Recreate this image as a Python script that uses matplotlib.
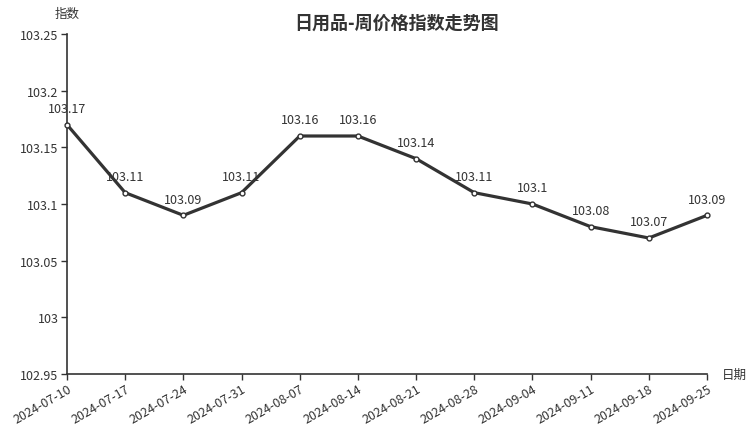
import matplotlib
matplotlib.use("Agg")
import matplotlib.pyplot as plt
import numpy as np

plt.rcParams['font.family'] = ['Noto Sans CJK SC', 'DejaVu Sans']

dates = ['2024-07-10', '2024-07-17', '2024-07-24', '2024-07-31', '2024-08-07', '2024-08-14',
         '2024-08-21', '2024-08-28', '2024-09-04', '2024-09-11', '2024-09-18', '2024-09-25']
values = [103.17, 103.11, 103.09, 103.11, 103.16, 103.16,
          103.14, 103.11, 103.1, 103.08, 103.07, 103.09]
yticks = [102.95, 103, 103.05, 103.1, 103.15, 103.2, 103.25]

fig = plt.figure(figsize=(7.52, 4.27), dpi=100)
ax = fig.add_axes([67/752, 1 - 375/427, 640/752, 340/427])

x = np.arange(len(dates))
ax.plot(x, values, color='#333333', lw=2.3, marker='o', ms=3.5,
        mfc='white', mec='#333333', mew=1, zorder=3, clip_on=False)
for xi, v in zip(x, values):
    ax.annotate('%g' % v, (xi, v), xytext=(0, 7), textcoords='offset points',
                ha='center', va='bottom', fontsize=9, color='#333333')

ax.set_xlim(0, len(dates) - 1)
ax.set_ylim(102.95, 103.25)
ax.set_xticks(x)
ax.set_xticklabels(dates, rotation=30, ha='right', rotation_mode='anchor', fontsize=9, color='#333333')
ax.set_yticks(yticks)
ax.set_yticklabels(['%g' % t for t in yticks], fontsize=9, color='#333333')
ax.tick_params(length=4, width=1, color='#333333', pad=2)

for s in ['top', 'right']:
    ax.spines[s].set_visible(False)
for s in ['left', 'bottom']:
    ax.spines[s].set_color('#333333')
    ax.spines[s].set_linewidth(1.2)

fig.text(67/752, 1 - 14/427, '指数', ha='center', va='center', fontsize=9, color='#333333')
fig.text(734/752, 1 - 375/427, '日期', ha='center', va='center', fontsize=9, color='#333333')
fig.text(397/752, 1 - 23/427, '日用品-周价格指数走势图', ha='center', va='center',
         fontsize=13, fontweight='bold', color='#333333')

fig.savefig('out.png', dpi=100)
